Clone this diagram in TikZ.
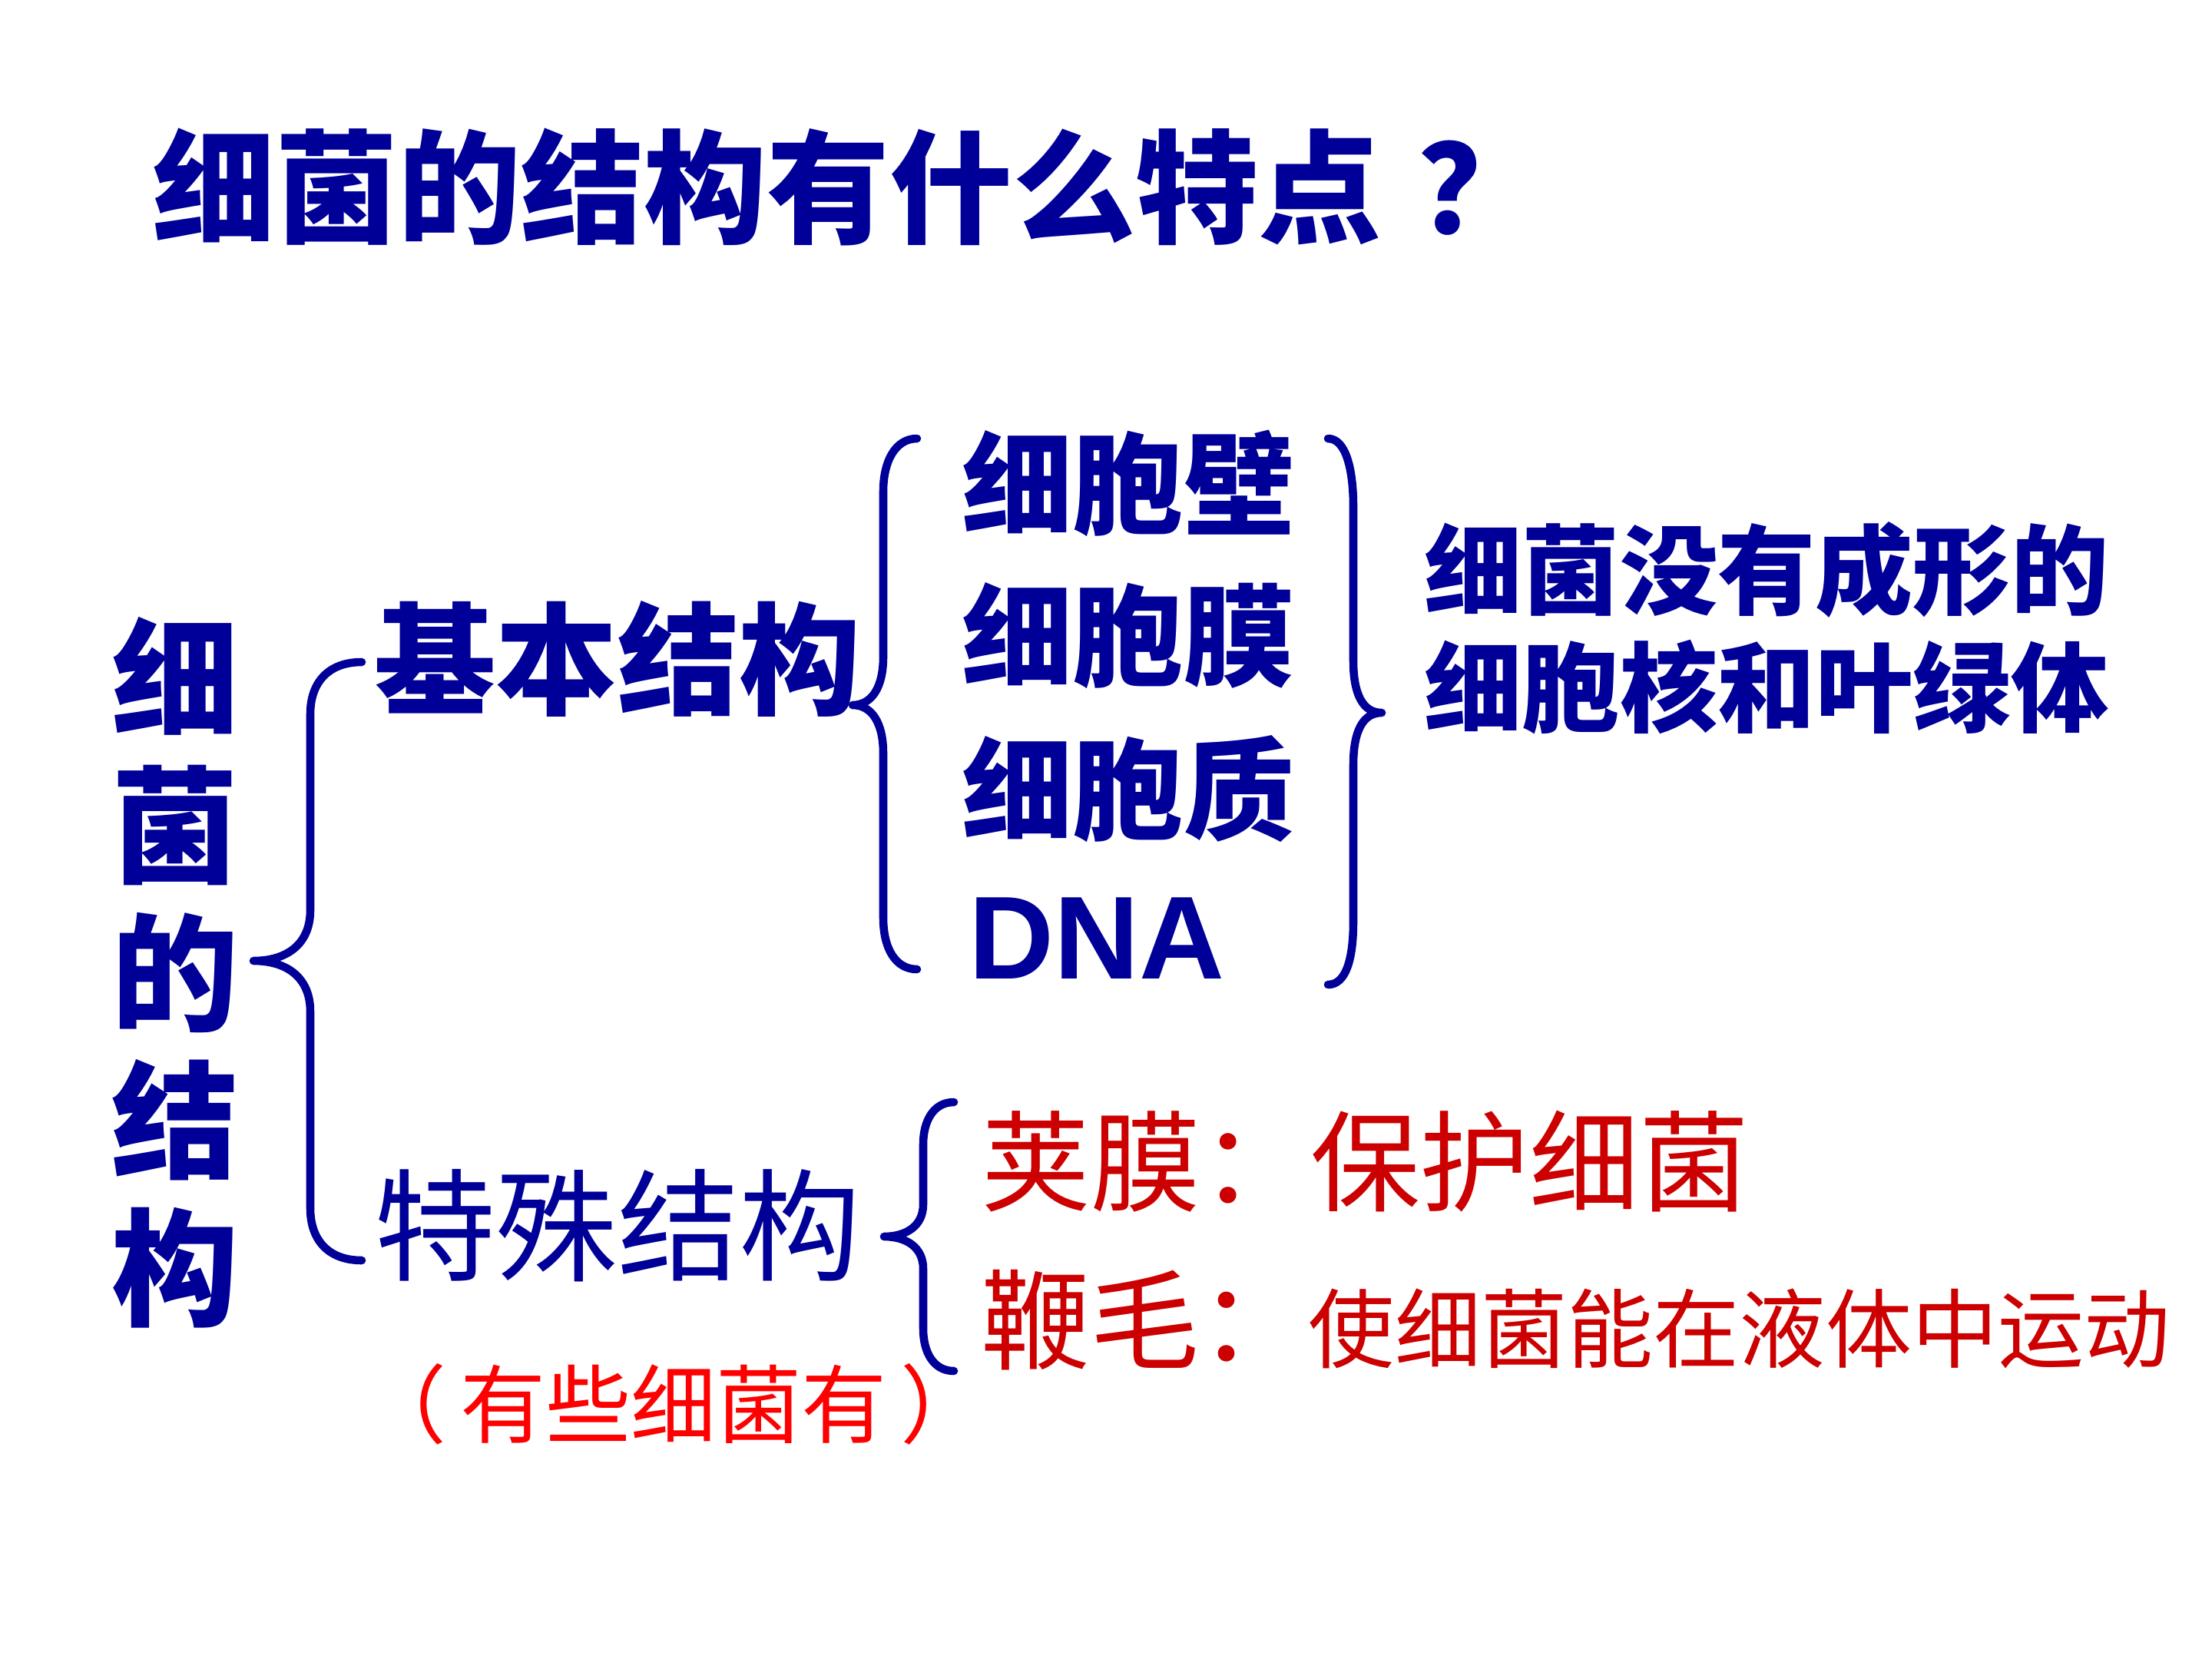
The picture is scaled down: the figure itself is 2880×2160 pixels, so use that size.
\documentclass[tikz,border=0pt]{standalone}
\usepackage{fontspec}
\setmainfont{Liberation Sans}
\newfontfamily\cjk{Noto Sans CJK SC}
\newcommand\setfs[1]{\fontsize{#1}{#1}\selectfont}
\definecolor{tblue}{RGB}{0,0,153}
\definecolor{tred}{RGB}{204,0,0}
\definecolor{pred}{RGB}{255,0,0}
\begin{document}
\begin{tikzpicture}[x=0.01cm,y=-0.01cm,
  bt/.style={inner sep=0pt, text=tblue, font=\cjk\bfseries},
  rt/.style={inner sep=0pt},
  brace/.style={draw=tblue, line width=3pt, line cap=round, line join=round}]
\useasboundingbox[fill=white] (0,0) rectangle (2880,2160);

% title
\node[bt, anchor=west, font=\cjk\bfseries\setfs{45.5}] (title) at (198,243) {细菌的结构有什么特点\hspace{0.3em}？};

% vertical label
\node[bt, align=center, font=\cjk\bfseries\fontsize{47}{54.6}\selectfont] (vert) at (228,1266) {细\\菌\\的\\结\\构};

% level 1
\node[bt, font=\cjk\bfseries\setfs{45}] (basic) at (804,858) {基本结构};
\node[inner sep=0pt, text=tblue, font=\cjk\setfs{45}] (special) at (804,1596) {特殊结构};
\node[inner sep=0pt, text=pred, font=\cjk\setfs{31.6}] (some) at (877,1828) {（\hspace{5pt}有些细菌有\hspace{5pt}）};

% basic items
\node[bt, font=\cjk\bfseries\setfs{41}] (wall) at (1469,629) {细胞壁};
\node[bt, font=\cjk\bfseries\setfs{41}] (memb) at (1469,828) {细胞膜};
\node[bt, font=\cjk\bfseries\setfs{41}] (cyto) at (1469,1027) {细胞质};
\node[inner sep=0pt, text=tblue, font=\bfseries\setfs{43.7}] (dna) at (1428,1222) {DNA};

% note
\node[bt, align=left, font=\cjk\bfseries\fontsize{36.2}{43.5}\selectfont] (note) at (2300,818) {细菌没有成形的\\细胞核和叶绿体};

% special items
\node[rt, anchor=west, text=tred, font=\cjk\setfs{40.6}] (caps) at (1277,1512) {荚膜：保护细菌};
\node[rt, anchor=base west, text=tred, font=\cjk\setfs{40.4}] (flag) at (1277,1772) {鞭毛：{\setfs{31.9}使细菌能在液体中运动}};

% left brace
\draw[brace] (471,862) .. controls (428,862) and (404,888) .. (404,930)
  -- (404,1185) .. controls (404,1228) and (375,1251) .. (330,1251)
  .. controls (375,1251) and (404,1274) .. (404,1317)
  -- (404,1573) .. controls (404,1615) and (428,1641) .. (471,1641);

% basic brace (left of items)
\draw[brace] (1194,571) .. controls (1166,571) and (1150,600) .. (1150,640)
  -- (1150,855) .. controls (1150,895) and (1135,918) .. (1110,918)
  .. controls (1135,918) and (1150,941) .. (1150,981)
  -- (1150,1195) .. controls (1150,1235) and (1166,1262) .. (1194,1262);

% right brace
\draw[brace] (1729,571) .. controls (1752,571) and (1762,610) .. (1762,660)
  -- (1762,860) .. controls (1762,905) and (1775,928) .. (1799,928)
  .. controls (1775,928) and (1762,951) .. (1762,996)
  -- (1762,1200) .. controls (1762,1250) and (1752,1282) .. (1729,1282);

% special brace
\draw[brace] (1242,1435) .. controls (1215,1435) and (1202,1460) .. (1202,1490)
  -- (1202,1568) .. controls (1202,1596) and (1180,1610) .. (1151,1610)
  .. controls (1180,1610) and (1202,1624) .. (1202,1652)
  -- (1202,1730) .. controls (1202,1760) and (1215,1785) .. (1242,1785);
\end{tikzpicture}
\end{document}
